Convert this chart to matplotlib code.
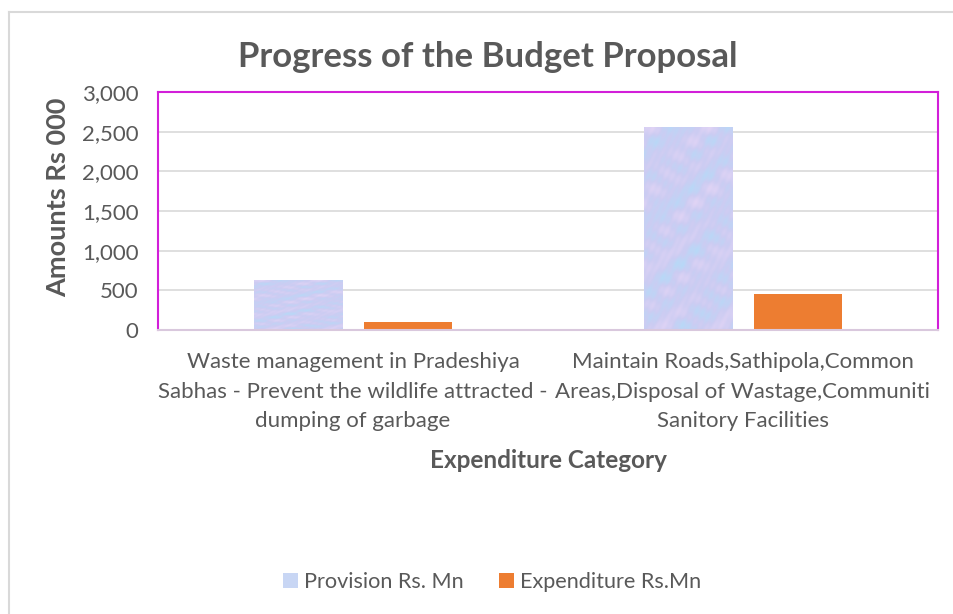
import matplotlib
matplotlib.use("Agg")
import matplotlib.pyplot as plt
import numpy as np
from matplotlib.patches import Patch

# 数据
categories = ["Waste management in Pradeshiya\nSabhas - Prevent the wildlife attracted -\ndumping of garbage",
              "Maintain Roads,Sathipola,Common\nAreas,Disposal of Wastage,Communiti\nSanitory Facilities"]
provision = [630, 2560]
expenditure = [100, 450]
series_names = ["Provision Rs. Mn", "Expenditure Rs.Mn"]
yticks = [0, 500, 1000, 1500, 2000, 2500, 3000]

plt.rcParams['font.family'] = ['Lato', 'DejaVu Sans']
text_c = '#595959'

fig = plt.figure(figsize=(9.54, 6.14), dpi=100, facecolor='w')
W, H = 954, 614
ax = fig.add_axes([158 / W, 1 - 330 / H, 780 / W, 238 / H])

x = np.arange(len(categories))
bw = 0.226
off = 0.142
b1 = ax.bar(x - off, provision, bw, color='#c8d6f4', zorder=2)
b2 = ax.bar(x + off, expenditure, bw, color='#ed7d31', zorder=2)

# 纹理填充（浅蓝/淡紫的云纹）
yy, xx = np.mgrid[0:200, 0:60]
tex = (np.sin(xx / 3.1) * np.cos(yy / 4.7) + np.sin((xx + yy) / 5.3) * 0.7
       + np.cos((xx - 2 * yy) / 6.1) * 0.5 + np.sin((3 * xx + yy) / 2.3) * 0.4
       + np.cos(yy / 11.0 + xx / 7.0) * 0.6)
tex = (tex - tex.min()) / (tex.max() - tex.min())
c1 = np.array([0.72, 0.85, 0.97])
c2 = np.array([0.80, 0.80, 0.95])
c3 = np.array([0.88, 0.83, 0.96])
img = np.where(tex[..., None] < 0.5,
               c1 + (c2 - c1) * (tex[..., None] * 2),
               c2 + (c3 - c2) * ((tex[..., None] - 0.5) * 2))
for r in b1:
    x0, y0 = r.get_x(), r.get_y()
    im = ax.imshow(img, extent=[x0, x0 + r.get_width(), y0, y0 + r.get_height()],
                   aspect='auto', zorder=2.5, interpolation='bilinear')
    im.set_clip_path(r)

ax.set_xlim(-0.5, 1.5)
ax.set_ylim(0, 3000)
ax.set_yticks(yticks)
ax.set_yticklabels(['{:,}'.format(v) for v in yticks], fontsize=16, color=text_c)
ax.set_xticks(x)
ax.set_xticklabels(categories, fontsize=16, color=text_c, linespacing=1.6)
ax.tick_params(length=0)
ax.tick_params(axis='y', pad=14)
ax.tick_params(axis='x', pad=16)
ax.grid(axis='y', color='#d9d9d9', linewidth=1.2, zorder=0)
ax.set_axisbelow(True)

for s in ['left', 'top', 'right']:
    ax.spines[s].set_color('#d21fd9')
    ax.spines[s].set_linewidth(1.5)
ax.spines['bottom'].set_color('#d9c8dd')
ax.spines['bottom'].set_linewidth(1.5)

fig.text(488 / W, 1 - 57 / H, "Progress of the Budget Proposal", fontsize=25,
         fontweight='bold', color=text_c, ha='center', va='center')
fig.text(58 / W, 1 - 197 / H, "Amounts Rs 000", fontsize=19.5, fontweight='bold',
         color=text_c, rotation=90, ha='center', va='center')
fig.text(548 / W, 1 - 461 / H, "Expenditure Category", fontsize=17.5,
         fontweight='bold', color=text_c, ha='center', va='center')

handles = [Patch(facecolor='#c8d6f4'), Patch(facecolor='#ed7d31')]
fig.legend(handles, series_names, loc='center', bbox_to_anchor=(492 / W, 1 - 582 / H),
           ncol=2, frameon=False, fontsize=15.6, labelcolor=text_c,
           handlelength=0.7, handleheight=0.7, columnspacing=1.6, handletextpad=0.3)

# 外框
fig.add_artist(plt.Line2D([9 / W, 9 / W], [0, 1 - 12 / H], color='#d9d9d9',
                          linewidth=1.5, transform=fig.transFigure))
fig.add_artist(plt.Line2D([9 / W, 1], [1 - 12 / H, 1 - 12 / H], color='#d9d9d9',
                          linewidth=1.5, transform=fig.transFigure))

fig.savefig("out.png", dpi=100)
